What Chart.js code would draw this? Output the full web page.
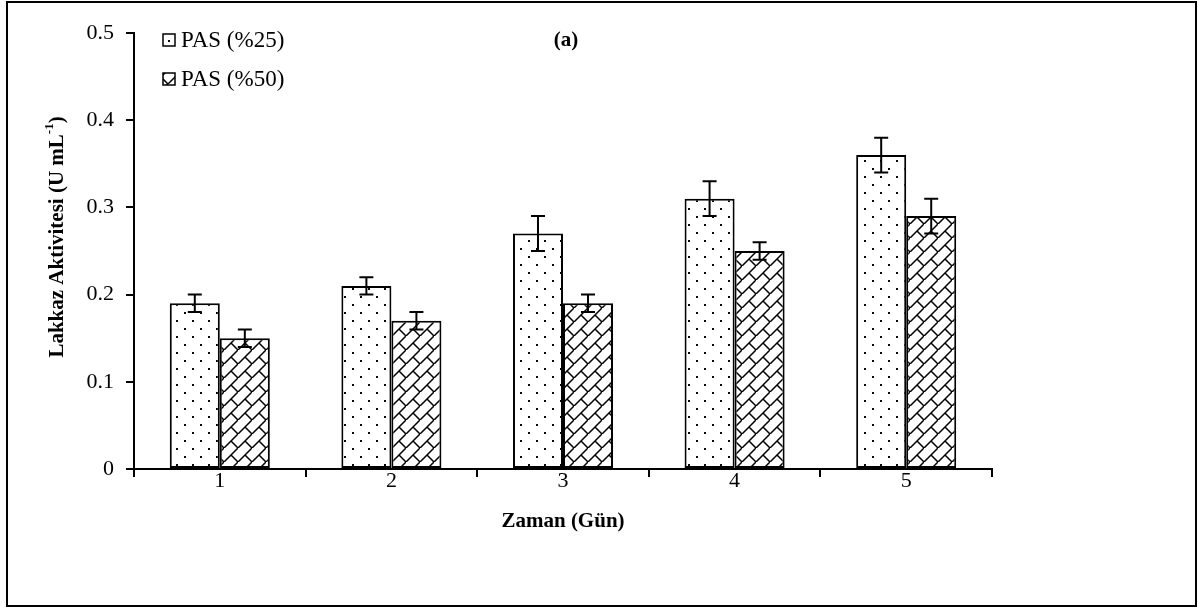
<!DOCTYPE html>
<html>
<head>
<meta charset="utf-8">
<script src="https://cdn.jsdelivr.net/npm/chart.js@4/dist/chart.umd.min.js"></script>
<style>
  html, body { margin: 0; padding: 0; background: #fff; }
  #wrap { width: 1197px; height: 608px; position: relative; }
</style>
</head>
<body>
<div id="wrap"><canvas id="chart" width="1197" height="608"></canvas></div>
<script>
// data
const categories = ['1', '2', '3', '4', '5'];
const seriesLabels = ['PAS (%25)', 'PAS (%50)'];
const pas25 = [0.19, 0.21, 0.27, 0.31, 0.36];
const pas50 = [0.15, 0.17, 0.19, 0.25, 0.29];
const pas25Err = [0.01, 0.01, 0.02, 0.02, 0.02];
const pas50Err = [0.01, 0.01, 0.01, 0.01, 0.02];
const yTicks = [0, 0.1, 0.2, 0.3, 0.4, 0.5];

const FONT = '"Liberation Serif", "Times New Roman", serif';

// dotted fill (excel style 10%)
function dotPattern() {
    const c = document.createElement('canvas');
    c.width = 16; c.height = 16;
    const x = c.getContext('2d');
    x.fillStyle = '#fff';
    x.fillRect(0, 0, 16, 16);
    x.fillStyle = '#000';
    x.fillRect(0, 0, 2, 2);
    x.fillRect(8, 8, 2, 2);
    return document.getElementById('chart').getContext('2d').createPattern(c, 'repeat');
}

// diagonal brick fill
function brickPattern() {
    const c = document.createElement('canvas');
    c.width = 14; c.height = 14;
    const x = c.getContext('2d');
    x.fillStyle = '#fff';
    x.fillRect(0, 0, 14, 14);
    x.strokeStyle = '#000';
    x.lineWidth = 1.5;
    x.beginPath();
    x.moveTo(-2, 16); x.lineTo(16, -2);
    x.moveTo(7, 7); x.lineTo(14, 14);
    x.stroke();
    return document.getElementById('chart').getContext('2d').createPattern(c, 'repeat');
}

const fills = [dotPattern(), brickPattern()];
const errors = [pas25Err, pas50Err];

const errorBars = {
    id: 'errorBars',
    afterDatasetsDraw(chart) {
        const ctx = chart.ctx;
        const y = chart.scales.y;
        ctx.save();
        ctx.strokeStyle = '#000';
        ctx.lineWidth = 2;
        chart.data.datasets.forEach((ds, i) => {
            const meta = chart.getDatasetMeta(i);
            meta.data.forEach((bar, j) => {
                const v = ds.data[j], e = errors[i][j];
                const top = y.getPixelForValue(v + e);
                const bot = y.getPixelForValue(v - e);
                const cx = bar.x;
                ctx.beginPath();
                ctx.moveTo(cx, top); ctx.lineTo(cx, bot);
                ctx.moveTo(cx - 7, top); ctx.lineTo(cx + 7, top);
                ctx.moveTo(cx - 7, bot); ctx.lineTo(cx + 7, bot);
                ctx.stroke();
            });
        });
        ctx.restore();
    }
};

const decorations = {
    id: 'decorations',
    afterDraw(chart) {
        const ctx = chart.ctx;
        ctx.save();
        // outer frame
        ctx.strokeStyle = '#000';
        ctx.lineWidth = 2;
        ctx.strokeRect(7, 2, 1189, 604);

        ctx.fillStyle = '#000';
        // (a)
        ctx.font = 'bold 21px ' + FONT;
        ctx.textAlign = 'center';
        ctx.textBaseline = 'middle';
        ctx.fillText('(a)', 566, 41);

        // x title
        ctx.fillText('Zaman (Gün)', 563, 522);

        // y title with superscript
        ctx.translate(58, 237);
        ctx.rotate(-Math.PI / 2);
        const main = 'Lakkaz Aktivitesi (U mL';
        const sup = '-1';
        const tail = ')';
        ctx.font = 'bold 21px ' + FONT;
        const w1 = ctx.measureText(main).width;
        const w3 = ctx.measureText(tail).width;
        ctx.font = 'bold 13px ' + FONT;
        const w2 = ctx.measureText(sup).width;
        let sx = -(w1 + w2 + w3) / 2;
        ctx.textAlign = 'left';
        ctx.font = 'bold 21px ' + FONT;
        ctx.fillText(main, sx, 0);
        ctx.font = 'bold 13px ' + FONT;
        ctx.fillText(sup, sx + w1, -8);
        ctx.font = 'bold 21px ' + FONT;
        ctx.fillText(tail, sx + w1 + w2, 0);
        ctx.setTransform(1, 0, 0, 1, 0, 0);

        // legend
        ctx.font = '23px ' + FONT;
        ctx.textAlign = 'left';
        chart.data.datasets.forEach((ds, i) => {
            const by = 34 + i * 39;
            ctx.fillStyle = ds.backgroundColor;
            ctx.fillRect(163, by, 12, 12);
            ctx.lineWidth = 1.5;
            ctx.strokeStyle = '#000';
            ctx.strokeRect(163, by, 12, 12);
            ctx.fillStyle = '#000';
            ctx.fillText(ds.label, 181, by + 7);
        });
        ctx.restore();
    }
};

new Chart(document.getElementById('chart'), {
    type: 'bar',
    data: {
        labels: categories,
        datasets: [
            { label: seriesLabels[0], data: pas25, backgroundColor: fills[0] },
            { label: seriesLabels[1], data: pas50, backgroundColor: fills[1] }
        ]
    },
    options: {
        responsive: false,
        animation: false,
        events: [],
        layout: { padding: { left: 0, right: 205, top: 33, bottom: 0 } },
        datasets: {
            bar: {
                borderColor: '#000',
                borderWidth: 2,
                borderSkipped: false,
                categoryPercentage: 0.583,
                barPercentage: 1
            }
        },
        plugins: {
            legend: { display: false },
            tooltip: { enabled: false }
        },
        scales: {
            x: {
                afterFit: s => { s.height = 139; },
                border: { color: '#000', width: 2 },
                grid: { display: true, offset: true, drawOnChartArea: false, drawTicks: true, tickLength: 8, color: '#000', lineWidth: 2 },
                ticks: { color: '#000', font: { family: FONT, size: 22 }, padding: -9, maxRotation: 0 }
            },
            y: {
                min: 0,
                max: 0.5,
                afterFit: s => { s.width = 134; },
                afterBuildTicks: s => { s.ticks = yTicks.map(v => ({ value: v })); },
                border: { color: '#000', width: 2 },
                grid: { drawOnChartArea: false, drawTicks: true, tickLength: 8, color: '#000', lineWidth: 2 },
                ticks: { color: '#000', font: { family: FONT, size: 22 }, padding: 12, callback: v => String(v) }
            }
        }
    },
    plugins: [errorBars, decorations]
});
</script>
</body>
</html>
